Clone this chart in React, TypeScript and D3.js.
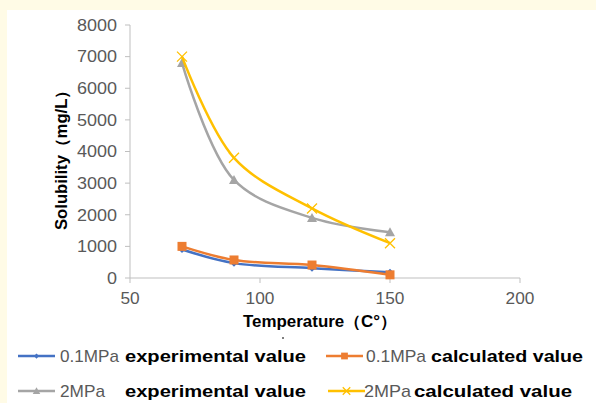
import React from "react";
import * as d3 from "d3";

const temperatures = [70, 90, 120, 150];
const exp01 = [900, 470, 310, 180];
const calc01 = [1000, 570, 410, 100];
const exp2 = [6800, 3100, 1900, 1450];
const calc2 = [7000, 3800, 2200, 1100];
const xTicks = [50, 100, 150, 200];
const yTicks = [0, 1000, 2000, 3000, 4000, 5000, 6000, 7000, 8000];

const W = 596, H = 403;
const x = d3.scaleLinear().domain([50, 200]).range([130, 520]);
const y = d3.scaleLinear().domain([0, 8000]).range([278, 25]);

const series = [
  { name: "0.1MPa", label: "experimental value", values: exp01, color: "#4472C4", marker: "diamond" },
  { name: "0.1MPa", label: "calculated value", values: calc01, color: "#ED7D31", marker: "square" },
  { name: "2MPa", label: "experimental value", values: exp2, color: "#A5A5A5", marker: "triangle" },
  { name: "2MPa", label: "calculated value", values: calc2, color: "#FFC000", marker: "x" },
];

const line = d3
  .line<[number, number]>()
  .x((d) => x(d[0]))
  .y((d) => y(d[1]))
  .curve(d3.curveCatmullRom.alpha(0.5));

function Marker({ type, cx, cy, color, s = 1 }: { type: string; cx: number; cy: number; color: string; s?: number }) {
  if (type === "diamond") {
    const r = 3.5 * s;
    return <path d={`M${cx},${cy - r}L${cx + r},${cy}L${cx},${cy + r}L${cx - r},${cy}Z`} fill={color} />;
  }
  if (type === "square") {
    const r = 4.5 * s;
    return <rect x={cx - r} y={cy - r} width={2 * r} height={2 * r} fill={color} />;
  }
  if (type === "triangle") {
    const r = 5 * s;
    return <path d={`M${cx},${cy - r}L${cx + r},${cy + r * 0.8}L${cx - r},${cy + r * 0.8}Z`} fill={color} />;
  }
  const r = 5 * s;
  return (
    <path d={`M${cx - r},${cy - r}L${cx + r},${cy + r}M${cx - r},${cy + r}L${cx + r},${cy - r}`} stroke={color} strokeWidth={1.3} fill="none" />
  );
}

const legendPos = [
  { lx: 18, ly: 356, tx: 60, tw: 59, bx: 125, bw: 181 },
  { lx: 326, ly: 356, tx: 366, tw: 60, bx: 431, bw: 152 },
  { lx: 18, ly: 391, tx: 60, tw: 45, bx: 125, bw: 181 },
  { lx: 328, ly: 391, tx: 364, tw: 47, bx: 414, bw: 158 },
];

export default function App() {
  const font = "'Liberation Sans', Arial, sans-serif";
  return (
    <svg width={W} height={H} style={{ position: "absolute", left: 0, top: 0 }} fontFamily={font}>
      <rect x={0} y={0} width={W} height={H} fill="#FFFBE6" />
      <rect x={7} y={10} width={W - 7} height={H - 10} fill="#FFFFFF" />
      {/* axes */}
      <line x1={x(50)} x2={x(200)} y1={y(0)} y2={y(0)} stroke="#BFBFBF" strokeWidth={1} />
      <line x1={x(50)} x2={x(50)} y1={y(0)} y2={y(8000)} stroke="#BFBFBF" strokeWidth={1} />
      {yTicks.map((t) => (
        <g key={t}>
          <line x1={x(50) - 5} x2={x(50)} y1={y(t)} y2={y(t)} stroke="#BFBFBF" />
          <text
            x={117}
            y={y(t)}
            dy="0.36em"
            textAnchor="end"
            fontSize={16}
            fill="#595959"
            textLength={String(t).length * 10}
            lengthAdjust="spacingAndGlyphs"
          >
            {t}
          </text>
        </g>
      ))}
      {xTicks.map((t) => (
        <g key={t}>
          <line x1={x(t)} x2={x(t)} y1={y(0)} y2={y(0) + 5} stroke="#BFBFBF" />
          <text
            x={x(t)}
            y={304}
            textAnchor="middle"
            fontSize={16}
            fill="#595959"
            textLength={String(t).length * 9.6}
            lengthAdjust="spacingAndGlyphs"
          >
            {t}
          </text>
        </g>
      ))}
      <text
        x={320}
        y={327}
        textAnchor="middle"
        fontSize={16}
        fontWeight="bold"
        fill="#000"
        textLength={154}
        lengthAdjust="spacingAndGlyphs"
      >
        Temperature（C°）
      </text>
      <text
        transform="translate(67,156) rotate(-90)"
        textAnchor="middle"
        fontSize={16}
        fontWeight="bold"
        fill="#000"
        textLength={148}
        lengthAdjust="spacingAndGlyphs"
      >
        Solubility（mg/L）
      </text>
      <circle cx={283} cy={338} r={1} fill="#555" />
      {/* series */}
      {series.map((s, i) => {
        const pts = temperatures.map((t, j) => [t, s.values[j]] as [number, number]);
        return (
          <g key={i}>
            <path d={line(pts) || ""} fill="none" stroke={s.color} strokeWidth={2.5} />
            {pts.map((p, j) => (
              <Marker key={j} type={s.marker} cx={x(p[0])} cy={y(p[1])} color={s.color} />
            ))}
          </g>
        );
      })}
      {/* legend */}
      {series.map((s, i) => {
        const p = legendPos[i];
        return (
          <g key={"l" + i}>
            <line x1={p.lx} x2={p.lx + 37} y1={p.ly} y2={p.ly} stroke={s.color} strokeWidth={2.5} />
            <Marker type={s.marker} cx={p.lx + 18.5} cy={p.ly} color={s.color} s={0.75} />
            <text x={p.tx} y={p.ly} dy="0.36em" fontSize={17} fill="#595959" textLength={p.tw} lengthAdjust="spacingAndGlyphs">
              {s.name}
            </text>
            <text
              x={p.bx}
              y={p.ly}
              dy="0.36em"
              fontSize={17}
              fontWeight="bold"
              fill="#000"
              textLength={p.bw}
              lengthAdjust="spacingAndGlyphs"
            >
              {s.label}
            </text>
          </g>
        );
      })}
    </svg>
  );
}
